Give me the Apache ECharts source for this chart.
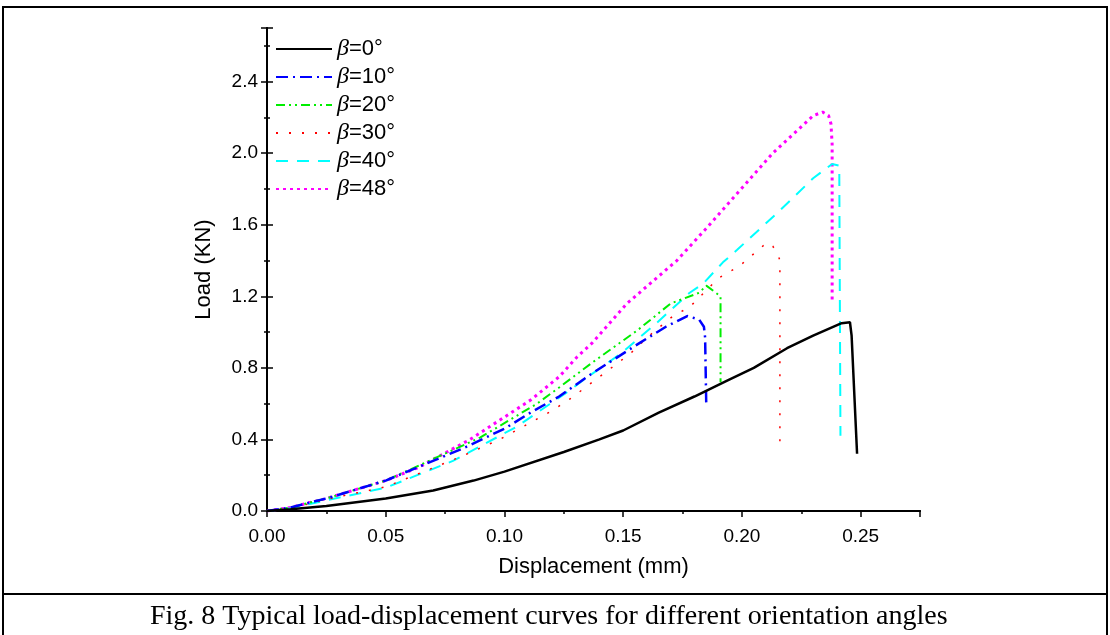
<!DOCTYPE html>
<html>
<head>
<meta charset="utf-8">
<script src="https://cdn.jsdelivr.net/npm/echarts@6/dist/echarts.min.js"></script>
<style>
  html, body { margin: 0; padding: 0; background: #fff; }
  #chart { width: 1110px; height: 635px; }
</style>
</head>
<body>
<div id="chart"></div>
<script>
// series names
var names = ['β=0°', 'β=10°', 'β=20°', 'β=30°', 'β=40°', 'β=48°']

// [displacement mm, load kN]
var beta0 = [[0,0],[0.01,0.01],[0.025,0.028],[0.05,0.07],[0.07,0.115],[0.087,0.17],[0.1,0.22],[0.125,0.33],[0.14,0.40],[0.15,0.45],[0.165,0.55],[0.18,0.64],[0.194,0.73],[0.205,0.80],[0.219,0.91],[0.23,0.98],[0.242,1.05],[0.2455,1.055],[0.2462,0.98],[0.2485,0.32]]
var beta10 = [[0,0],[0.01,0.02],[0.025,0.07],[0.05,0.17],[0.0825,0.35],[0.1,0.46],[0.111,0.55],[0.123,0.64],[0.137,0.77],[0.157,0.94],[0.168,1.03],[0.177,1.09],[0.182,1.07],[0.184,1.03],[0.1845,0.97],[0.185,0.58]]
var beta20 = [[0,0],[0.01,0.02],[0.025,0.07],[0.05,0.17],[0.0897,0.41],[0.1137,0.60],[0.123,0.69],[0.137,0.83],[0.156,1.01],[0.17,1.16],[0.182,1.22],[0.185,1.26],[0.189,1.22],[0.191,1.2],[0.191,0.72]]
var beta30 = [[0,0],[0.01,0.015],[0.025,0.065],[0.05,0.135],[0.081,0.30],[0.098,0.40],[0.12,0.56],[0.128,0.63],[0.143,0.78],[0.153,0.88],[0.161,0.98],[0.171,1.09],[0.178,1.14],[0.184,1.22],[0.19,1.30],[0.199,1.37],[0.2105,1.50],[0.213,1.48],[0.215,1.44],[0.216,1.40],[0.216,0.34]]
var beta40 = [[0,0],[0.01,0.015],[0.025,0.06],[0.05,0.13],[0.0783,0.28],[0.105,0.47],[0.1276,0.675],[0.133,0.73],[0.149,0.88],[0.164,1.05],[0.178,1.22],[0.1836,1.27],[0.192,1.39],[0.198,1.46],[0.216,1.68],[0.23,1.86],[0.238,1.94],[0.241,1.93],[0.2415,0.42]]
var beta48 = [[0,0],[0.01,0.02],[0.025,0.07],[0.05,0.17],[0.064,0.245],[0.0855,0.40],[0.111,0.62],[0.123,0.75],[0.1305,0.86],[0.137,0.94],[0.1516,1.16],[0.1726,1.40],[0.185,1.58],[0.213,2.0],[0.23,2.21],[0.234,2.23],[0.2365,2.21],[0.2375,2.165],[0.238,2.05],[0.238,1.17]]

var colors = ['#000000', '#0000ff', '#00ee00', '#ff0000', '#00ffff', '#ff00ff']
var dashes = ['solid', [12, 5, 2, 5], [9, 4, 2, 4, 2, 4], [2, 11], [12, 9], [3, 4]]
var widths = [2.5, 2.5, 2, 1.5, 2, 3]
var allData = [beta0, beta10, beta20, beta30, beta40, beta48]

var series = []
for (var i = 0; i < names.length; i++) {
	series.push({
		name: names[i],
		type: 'line',
		data: allData[i],
		symbol: 'none',
		showSymbol: false,
		animation: false,
		z: 10 - i,
		lineStyle: { color: colors[i], width: widths[i], type: dashes[i] },
		itemStyle: { color: colors[i] }
	})
}

var axisCommon = {
	axisLine: { show: true, lineStyle: { color: '#000', width: 2 } },
	axisTick: { show: true, inside: false, length: 6, lineStyle: { color: '#000', width: 1.5 } },
	minorTick: { show: true, splitNumber: 2, length: 3, lineStyle: { color: '#000', width: 1.5 } },
	splitLine: { show: false }
}

var myChart = echarts.init(document.getElementById('chart'))
myChart.setOption({
	backgroundColor: '#fff',
	animation: false,
	title: {
		text: 'Fig. 8 Typical load-displacement curves for different orientation angles',
		left: 145,
		top: 598,
		textStyle: { fontFamily: 'Liberation Serif', fontSize: 28, fontWeight: 'normal', color: '#000' }
	},
	graphic: [
		{ type: 'rect', shape: { x: 3, y: 7, width: 1104, height: 630 }, style: { fill: 'none', stroke: '#000', lineWidth: 2 } },
		{ type: 'line', shape: { x1: 3, y1: 594, x2: 1107, y2: 594 }, style: { stroke: '#000', lineWidth: 2 } }
	],
	grid: { left: 267, right: 190, top: 28, bottom: 124, containLabel: false },
	legend: {
		orient: 'vertical',
		left: 270,
		top: 32,
		itemWidth: 56,
		itemHeight: 14,
		itemGap: 4,
		data: names,
		itemStyle: { opacity: 0 },
		formatter: function (name) {
			return '{b|β}{t|' + name.slice(1) + '}'
		},
		textStyle: {
			rich: {
				b: { fontFamily: 'Liberation Serif', fontStyle: 'italic', fontSize: 24, color: '#000' },
				t: { fontFamily: 'Liberation Sans', fontSize: 22, color: '#000' }
			}
		}
	},
	xAxis: [
		Object.assign({
			type: 'value', min: 0, max: 0.275, interval: 0.05,
			name: 'Displacement (mm)', nameLocation: 'middle', nameGap: 45,
			nameTextStyle: { fontFamily: 'Liberation Sans', fontSize: 22, color: '#000' },
			axisLabel: {
				showMaxLabel: false, margin: 16,
				fontFamily: 'Liberation Sans', fontSize: 19, color: '#000',
				formatter: function (v) { return v.toFixed(2) }
			}
		}, axisCommon),
		Object.assign({
			type: 'value', position: 'top', min: 0, max: 0.275, interval: 0.05,
			axisLabel: { show: false }
		}, axisCommon, { axisTick: { show: false }, minorTick: { show: false } })
	],
	yAxis: [
		Object.assign({
			type: 'value', min: 0, max: 2.7, interval: 0.4,
			name: 'Load (KN)', nameLocation: 'middle', nameGap: 52,
			nameTextStyle: { fontFamily: 'Liberation Sans', fontSize: 22, color: '#000' },
			axisLabel: {
				showMaxLabel: false, margin: 9,
				fontFamily: 'Liberation Sans', fontSize: 19, color: '#000',
				formatter: function (v) { return v.toFixed(1) }
			}
		}, axisCommon),
		Object.assign({
			type: 'value', position: 'right', min: 0, max: 2.7, interval: 0.4,
			axisLabel: { show: false }
		}, axisCommon)
	],
	series: series
})
</script>
</body>
</html>
